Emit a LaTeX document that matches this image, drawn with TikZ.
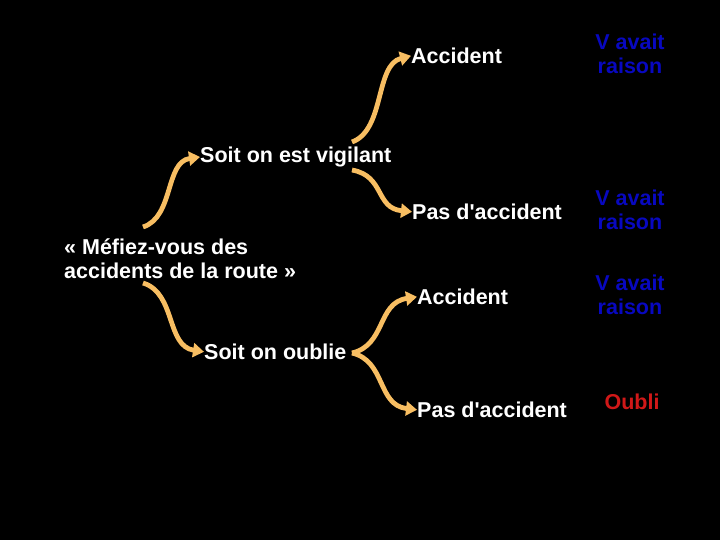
\documentclass[tikz,border=0pt]{standalone}
\usepackage{fontspec}
\setmainfont{Liberation Sans}
\usepackage{xcolor}
\usepackage{tikz}
\usetikzlibrary{arrows.meta}

\definecolor{branchc}{HTML}{F8BE62}
\definecolor{rightc}{HTML}{0808C0}
\definecolor{forgotc}{HTML}{D01818}

\begin{document}
\begin{tikzpicture}[
    x=1pt, y=-1pt,
    txt/.style={text=white, inner sep=0pt, anchor=base west, font=\bfseries\fontsize{21.5}{24}\selectfont},
    verdict/.style={inner sep=0pt, align=center, font=\bfseries\fontsize{21.5}{24}\selectfont},
    branch/.style={draw=branchc, line width=4.8pt, -{Triangle[length=11pt,width=14pt]}}
]
\fill[black] (0,0) rectangle (720,540);
\useasboundingbox (0,0) rectangle (720,540);

% texts
\node[txt, anchor=west, align=left] (quote) at (64,259) {« Méfiez-vous des\\accidents de la route »};
\node[txt] (vigil) at (200,162.5) {Soit on est vigilant};
\node[txt] (oubli) at (204,359.5) {Soit on oublie};
\node[txt] (acc1) at (411,63.5) {Accident};
\node[txt] (pas1) at (412,219.5) {Pas d\textquotesingle accident};
\node[txt] (acc2) at (417,304.5) {Accident};
\node[txt] (pas2) at (417,417.5) {Pas d\textquotesingle accident};
\node[verdict, text=rightc] (res1) at (630,54) {V avait\\raison};
\node[verdict, text=rightc] (res2) at (630,210) {V avait\\raison};
\node[verdict, text=rightc] (res3) at (630,295) {V avait\\raison};
\node[verdict, text=forgotc] (res4) at (632,402) {Oubli};

% start points of the branches
\coordinate (q-up) at (143,227);
\coordinate (q-down) at (143,283);
\coordinate (v-up) at (352,142);
\coordinate (v-down) at (352,170);
\coordinate (o-fork) at (352,353);

\draw[branch] (q-up) .. controls (174,217) and (165,162) .. (vigil.west);
\draw[branch] (q-down) .. controls (176,293) and (166,346) .. (oubli.west);
\draw[branch] (v-up) .. controls (385,130) and (375,65) .. (acc1.west);
\draw[branch] (v-down) .. controls (385,176) and (375,208) .. (pas1.west);
\draw[branch] (o-fork) .. controls (386,345) and (377,303) .. (acc2.west);
\draw[branch] (o-fork) .. controls (386,361) and (377,405) .. (pas2.west);
\end{tikzpicture}
\end{document}
